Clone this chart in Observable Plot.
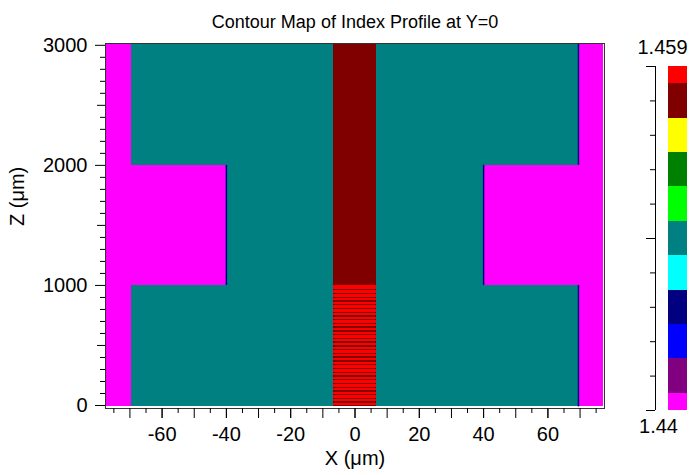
<!DOCTYPE html>
<html>
<head>
<meta charset="utf-8">
<script src="https://cdn.jsdelivr.net/npm/d3@7"></script>
<script src="https://cdn.jsdelivr.net/npm/@observablehq/plot@0.6"></script>
<style>
  html, body { margin: 0; padding: 0; background: #fff; }
  #wrap { position: relative; width: 690px; height: 475px; }
  #wrap svg { position: absolute; left: 0; top: 0; }
</style>
</head>
<body>
<div id="wrap"></div>
<script>
// ---- data ----
const levels = [1.44, 1.4419, 1.4438, 1.4457, 1.4476, 1.4495, 1.4514, 1.4533, 1.4552, 1.4571, 1.459];
const levelColors = ["#ff00ff", "#800080", "#0000ff", "#000080", "#00ffff", "#008080", "#00ff00", "#008000", "#ffff00", "#800000", "#ff0000"];

const domainX = [-77.2, 77.2];
const domainZ = [-12, 3006];
const nOuter = 1.44;
const nCladding = 1.4495;
const nCore = 1.4571;
const nStripe = 1.459;
const nEdge = 1.4457;

const sectionZStart = [-12, 1000, 2000];
const sectionZEnd = [1000, 2000, 3006];
const claddingHalfWidth = [69.5, 40, 69.5];
const coreHalfWidth = 6.8;

const redStripeStart = [0, 30, 61, 92, 123, 154, 186, 217, 248, 279, 310, 342, 373, 404, 435, 466, 498, 529, 560, 591, 622, 654, 685, 716, 747, 778, 810, 841, 872, 903, 934, 966];
const redStripeEnd = [20, 50, 81, 112, 143, 174, 206, 237, 268, 299, 330, 362, 393, 424, 455, 486, 518, 549, 580, 611, 642, 674, 705, 736, 767, 798, 830, 861, 892, 923, 954, 1000];

const edgeX = [-40, 40, 69.5, 69.5];
const edgeZ1 = [1000, 1000, -12, 2000];
const edgeZ2 = [2000, 2000, 1000, 3006];

const xMinorTicks = [-75, -65, -55, -45, -35, -25, -15, -5, 5, 15, 25, 35, 45, 55, 65, 75];
const xMajorTicks = [-70, -60, -50, -40, -30, -20, -10, 0, 10, 20, 30, 40, 50, 60, 70];
const xLabelTicks = [-60, -40, -20, 0, 20, 40, 60];
const yMinorTicks = [100, 200, 300, 400, 600, 700, 800, 900, 1100, 1200, 1300, 1400, 1600, 1700, 1800, 1900, 2100, 2200, 2300, 2400, 2600, 2700, 2800, 2900];
const yMidTicks = [500, 1500, 2500];
const yLabelTicks = [0, 1000, 2000, 3000];

const titleText = "Contour Map of Index Profile at Y=0";
const xLabel = "X (\u03bcm)";
const zLabel = "Z (\u03bcm)";

// ---- build tables ----
const regions = [];
regions.push({x1: domainX[0], x2: domainX[1], y1: domainZ[0], y2: domainZ[1], n: nOuter});
sectionZStart.forEach((z, i) => {
  regions.push({x1: -claddingHalfWidth[i], x2: claddingHalfWidth[i], y1: z, y2: sectionZEnd[i], n: nCladding});
});
regions.push({x1: -coreHalfWidth, x2: coreHalfWidth, y1: domainZ[0], y2: domainZ[1], n: nCore});
const stripes = redStripeStart.map((z, i) => ({x1: -coreHalfWidth, x2: coreHalfWidth, y1: z, y2: redStripeEnd[i], n: nStripe}));
const edges = edgeX.map((x, i) => ({x, y1: edgeZ1[i], y2: edgeZ2[i], n: nEdge}));

const colorScale = {type: "ordinal", domain: levels, range: levelColors};
const font = "Arial, 'Liberation Sans', sans-serif";
const blank = () => "";

const main = Plot.plot({
  width: 690, height: 475,
  marginLeft: 105, marginRight: 86, marginTop: 43, marginBottom: 67,
  style: {fontFamily: font, fontSize: "20px", color: "#000", background: "transparent"},
  x: {domain: [-77.6, 77.6], axis: null},
  y: {domain: [-25, 3015], axis: null},
  color: colorScale,
  marks: [
    Plot.rect(regions, {x1: "x1", x2: "x2", y1: "y1", y2: "y2", fill: "n", shapeRendering: "crispEdges"}),
    Plot.rect(stripes, {x1: "x1", x2: "x2", y1: "y1", y2: "y2", fill: "n", shapeRendering: "crispEdges"}),
    Plot.ruleX(edges, {x: "x", y1: "y1", y2: "y2", stroke: "n", strokeWidth: 1.5}),
    Plot.frame({stroke: "#333"}),
    Plot.axisX({ticks: xMinorTicks, tickSize: 5, tickFormat: blank}),
    Plot.axisX({ticks: xMajorTicks, tickSize: 10, tickFormat: blank}),
    Plot.axisX({ticks: xLabelTicks, tickSize: 10, tickPadding: 8, tickFormat: d => String(d), fontSize: 20}),
    Plot.axisY({ticks: yMinorTicks, tickSize: 5, tickFormat: blank}),
    Plot.axisY({ticks: yMidTicks, tickSize: 8, tickFormat: blank}),
    Plot.axisY({ticks: yLabelTicks, tickSize: 10, tickPadding: 8, tickFormat: d => String(d), fontSize: 20}),
    Plot.text([titleText], {frameAnchor: "top", dy: -28, fontSize: 18, fill: "#000"}),
    Plot.text([xLabel], {frameAnchor: "bottom", dy: 56, fontSize: 20, fill: "#000"}),
    Plot.text([zLabel], {frameAnchor: "left", dx: -88, rotate: -90, fontSize: 20, fill: "#000"})
  ]
});

const bars = levels.map((v, i) => ({
  y1: i === 0 ? levels[0] : (levels[i - 1] + v) / 2,
  y2: i === levels.length - 1 ? levels[levels.length - 1] : (v + levels[i + 1]) / 2,
  n: v
}));

const bar = Plot.plot({
  width: 690, height: 475,
  marginLeft: 655, marginRight: 3, marginTop: 66, marginBottom: 65,
  style: {fontFamily: font, fontSize: "20px", color: "#000", background: "transparent"},
  x: {domain: [0, 1], axis: null},
  y: {domain: [levels[0], levels[levels.length - 1]], axis: null},
  color: colorScale,
  marks: [
    Plot.rect(bars, {x1: 0, x2: 1, y1: "y1", y2: "y2", fill: "n", insetLeft: 13, shapeRendering: "crispEdges"}),
    Plot.ruleX([0], {y1: levels[0], y2: levels[levels.length - 1], stroke: "#000"}),
    Plot.axisY({ticks: levels, tickSize: 5, tickFormat: blank}),
    Plot.axisY({ticks: [levels[0], levels[5], levels[10]], tickSize: 9, tickFormat: blank}),
    Plot.text([levels[10]], {y: d => d, text: d => String(d), dx: -9, dy: -19, fontSize: 20, fill: "#000"}),
    Plot.text([levels[0]], {y: d => d, text: d => String(d), dx: -13, dy: 16, fontSize: 20, fill: "#000"})
  ]
});

const wrap = document.getElementById("wrap");
wrap.appendChild(main);
wrap.appendChild(bar);
</script>
</body>
</html>
